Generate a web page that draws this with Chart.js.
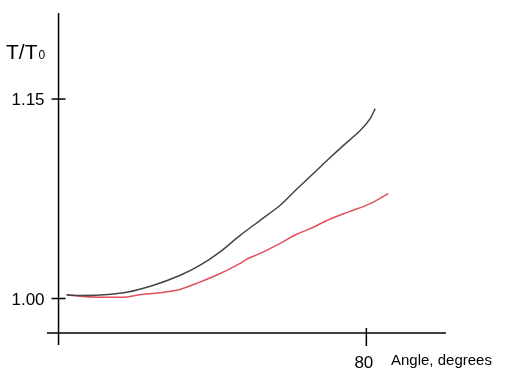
<!DOCTYPE html>
<html>
<head>
<meta charset="utf-8">
<script src="https://cdn.jsdelivr.net/npm/chart.js@4"></script>
<style>
html,body{margin:0;padding:0;background:#fff;}
#wrap{width:522px;height:388px;position:relative;}
</style>
</head>
<body>
<div id="wrap"><canvas id="c" width="522" height="388"></canvas></div>
<script>
// Data
const angleBlack = [2.1, 5.5, 10.7, 17.7, 24.5, 31.5, 36.7, 41.9, 47.2, 52.4, 57.6, 62.0, 65.4, 70.6, 74.0, 78.4, 81.0, 82.3];
const ratioBlack = [1.0026, 1.0023, 1.0026, 1.0047, 1.0098, 1.0173, 1.0249, 1.0349, 1.0475, 1.0588, 1.0701, 1.0825, 1.0917, 1.1060, 1.1150, 1.1263, 1.1353, 1.1428];
const angleRed = [2.1, 5.5, 10.7, 17.7, 21.1, 26.3, 31.5, 36.7, 41.9, 47.2, 49.0, 52.4, 57.6, 62.0, 65.4, 70.6, 75.8, 81.0, 85.7];
const ratioRed = [1.0030, 1.0017, 1.0010, 1.0012, 1.0028, 1.0043, 1.0068, 1.0123, 1.0186, 1.0264, 1.0297, 1.0339, 1.0415, 1.0485, 1.0525, 1.0598, 1.0655, 1.0714, 1.0789];
const yTicks = [1.00, 1.15];
const yTickLabels = ["1.00", "1.15"];
const xTicks = [80];
const xTickLabels = ["80"];
const yTitle = "T/T";
const yTitleSub = "0";
const xTitle = "Angle, degrees";

const toPts = (xs, ys) => xs.map((x, i) => ({x: x, y: ys[i]}));

const axesPlugin = {
  id: 'axesPlugin',
  afterDraw(chart) {
    const ctx = chart.ctx;
    const xs = chart.scales.x, ys = chart.scales.y;
    const ca = chart.chartArea;
    const x0 = xs.getPixelForValue(0);
    ctx.save();
    ctx.strokeStyle = '#000';
    ctx.lineWidth = 1.5;
    // y axis
    ctx.beginPath();
    ctx.moveTo(x0, ca.top);
    ctx.lineTo(x0, ca.bottom + 12);
    ctx.stroke();
    // x axis
    ctx.beginPath();
    ctx.moveTo(ca.left, ca.bottom);
    ctx.lineTo(ca.right, ca.bottom);
    ctx.stroke();
    // y ticks
    ctx.fillStyle = '#000';
    ctx.font = '17px "Liberation Sans", Arial, sans-serif';
    ctx.textAlign = 'right';
    ctx.textBaseline = 'middle';
    yTicks.forEach((v, i) => {
      const py = ys.getPixelForValue(v);
      ctx.beginPath();
      ctx.moveTo(x0 - 7, py);
      ctx.lineTo(x0 + 7, py);
      ctx.stroke();
      ctx.fillText(yTickLabels[i], x0 - 14, py + 1.5);
    });
    // x ticks
    ctx.textAlign = 'center';
    ctx.textBaseline = 'alphabetic';
    ctx.font = '17px "Liberation Sans", Arial, sans-serif';
    xTicks.forEach((v, i) => {
      const px = xs.getPixelForValue(v);
      ctx.beginPath();
      ctx.moveTo(px, ca.bottom - 5);
      ctx.lineTo(px, ca.bottom + 13);
      ctx.stroke();
      ctx.fillText(xTickLabels[i], px - 2.5, ca.bottom + 35);
    });
    // x title
    ctx.textAlign = 'left';
    ctx.font = '15px "Liberation Sans", Arial, sans-serif';
    ctx.fillText(xTitle, 391, ca.bottom + 32);
    // y title
    ctx.font = '21px "Liberation Sans", Arial, sans-serif';
    ctx.fillText(yTitle, 6, 59);
    const w = ctx.measureText(yTitle).width;
    ctx.font = '12px "Liberation Sans", Arial, sans-serif';
    ctx.fillText(yTitleSub, 6 + w + 1, 59);
    ctx.restore();
  }
};

new Chart(document.getElementById('c'), {
  type: 'line',
  data: {
    datasets: [
      {
        data: toPts(angleBlack, ratioBlack),
        borderColor: '#444444',
        borderWidth: 1.5,
        pointRadius: 0,
        tension: 0.3,
        fill: false
      },
      {
        data: toPts(angleRed, ratioRed),
        borderColor: '#e2505c',
        borderWidth: 1.5,
        pointRadius: 0,
        tension: 0.3,
        fill: false
      }
    ]
  },
  options: {
    responsive: false,
    animation: false,
    events: [],
    layout: {padding: {left: 47, top: 13, right: 76, bottom: 55}},
    plugins: {legend: {display: false}, tooltip: {enabled: false}},
    scales: {
      x: {type: 'linear', display: false, min: -3, max: 100.7},
      y: {type: 'linear', display: false, min: 0.97406, max: 1.2147}
    }
  },
  plugins: [axesPlugin]
});
</script>
</body>
</html>
